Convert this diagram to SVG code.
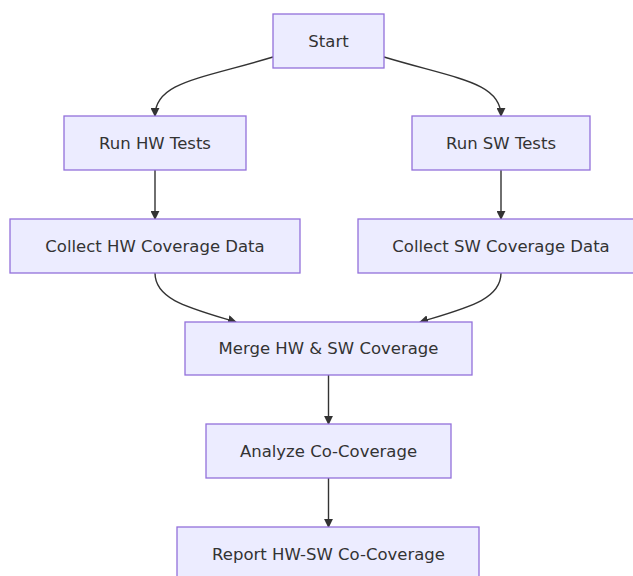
<svg xmlns="http://www.w3.org/2000/svg" width="633" height="576" viewBox="0 0 633 576">
<style>
.node rect{fill:#ECECFF;stroke:#9370DB;stroke-width:1.3px}
.node text{font-family:"DejaVu Sans","Noto Sans",sans-serif;font-size:16.5px;fill:#333;text-anchor:middle;dominant-baseline:central}
.edges path{fill:none;stroke:#333;stroke-width:1.4px;marker-end:url(#arr)}
</style>
<defs>
<marker id="arr" viewBox="0 0 10 10" refX="9" refY="5" markerWidth="9" markerHeight="9" markerUnits="userSpaceOnUse" orient="auto">
<path d="M0,0 L10,5 L0,10 z" fill="#333"/>
</marker>
</defs>
<rect width="633" height="576" fill="#fff"/>
<g class="edges">
<path d="M273,57 C200,79 155,82 155,116"/>
<path d="M384,57 C457,79 501,82 501,116"/>
<path d="M155,170 L155,219"/>
<path d="M501,170 L501,219"/>
<path d="M155,273 C155,300 190,308 236,322"/>
<path d="M501,273 C501,300 466,308 420,322"/>
<path d="M328.5,375 L328.5,424"/>
<path d="M328.5,478 L328.5,527"/>
</g>
<g id="start" class="node"><rect x="273" y="14" width="111" height="54"/><text x="328.5" y="41">Start</text></g>
<g id="runhw" class="node"><rect x="64" y="116" width="182" height="54"/><text x="155" y="143">Run HW Tests</text></g>
<g id="runsw" class="node"><rect x="412" y="116" width="178" height="54"/><text x="501" y="143">Run SW Tests</text></g>
<g id="collecthw" class="node"><rect x="10" y="219" width="290" height="54"/><text x="155" y="246">Collect HW Coverage Data</text></g>
<g id="collectsw" class="node"><rect x="358" y="219" width="286" height="54"/><text x="501" y="246">Collect SW Coverage Data</text></g>
<g id="merge" class="node"><rect x="185" y="322" width="287" height="53"/><text x="328.5" y="348.5">Merge HW &amp; SW Coverage</text></g>
<g id="analyze" class="node"><rect x="206" y="424" width="245" height="54"/><text x="328.5" y="451">Analyze Co-Coverage</text></g>
<g id="report" class="node"><rect x="177" y="527" width="302" height="54"/><text x="328.5" y="554">Report HW-SW Co-Coverage</text></g>
</svg>
